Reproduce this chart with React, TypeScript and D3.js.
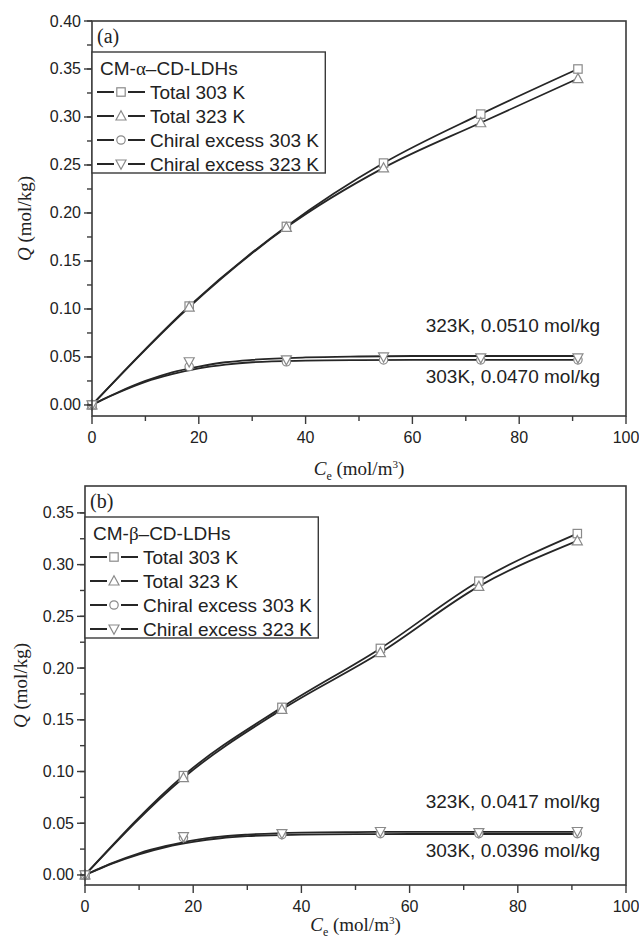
import React, { useEffect, useRef } from "react";
import * as d3 from "d3";

// ---- data ----
const ceValues = [0, 18.2, 36.4, 54.6, 72.8, 91.0];

const totalA303 = [0, 0.103, 0.186, 0.252, 0.303, 0.35];
const totalA323 = [0, 0.102, 0.185, 0.247, 0.294, 0.34];
const chiralA303 = [0, 0.04, 0.045, 0.047, 0.047, 0.047];
const chiralA323 = [0, 0.045, 0.047, 0.05, 0.049, 0.049];

const totalB303 = [0, 0.096, 0.162, 0.219, 0.284, 0.33];
const totalB323 = [0, 0.094, 0.16, 0.215, 0.279, 0.323];
const chiralB303 = [0, 0.036, 0.039, 0.04, 0.04, 0.04];
const chiralB323 = [0, 0.037, 0.04, 0.042, 0.041, 0.042];

// fitted curves for chiral excess
const fitX = [0, 2, 5, 10, 15, 20, 25, 30, 40, 50, 60, 70, 80, 91];
const fitA303 = [0, 0.0055, 0.013, 0.024, 0.032, 0.038, 0.042, 0.0445, 0.0462, 0.0468, 0.047, 0.047, 0.047, 0.047];
const fitA323 = [0, 0.0057, 0.0135, 0.025, 0.034, 0.04, 0.0445, 0.047, 0.0495, 0.0505, 0.051, 0.051, 0.051, 0.051];
const fitB303 = [0, 0.0045, 0.011, 0.02, 0.027, 0.032, 0.0355, 0.0375, 0.039, 0.0395, 0.0396, 0.0396, 0.0396, 0.0396];
const fitB323 = [0, 0.0047, 0.0115, 0.021, 0.028, 0.0335, 0.037, 0.039, 0.041, 0.0415, 0.0417, 0.0417, 0.0417, 0.0417];

const legendLabels = ["Total 303 K", "Total 323 K", "Chiral excess 303 K", "Chiral excess 323 K"];
const markerTypes = ["square", "triangle", "circle", "down"];
const yTicksA = [0, 0.05, 0.1, 0.15, 0.2, 0.25, 0.3, 0.35, 0.4];
const yTicksB = [0, 0.05, 0.1, 0.15, 0.2, 0.25, 0.3, 0.35];
const xTicks = [0, 20, 40, 60, 80, 100];

const SANS = "'Liberation Sans', Arial, Helvetica, sans-serif";
const SERIF = "'Liberation Serif', 'Times New Roman', serif";
const AXIS_COLOR = "#3a3a3a";
const LINE_COLOR = "#262626";
const MARKER_COLOR = "#8a8a8a";

type Panel = {
  tag: string;
  greek: string;
  left: number;
  right: number;
  top: number;
  bottom: number;
  yDomain: [number, number];
  yTicks: number[];
  totals: number[][];
  chirals: number[][];
  fits: number[][];
  annot: { text: string; value: number; dy: number }[];
  xTitleY: number;
  yTitleX: number;
};

const panels: Panel[] = [
  {
    tag: "(a)",
    greek: "α",
    left: 92,
    right: 626,
    top: 21,
    bottom: 416,
    yDomain: [-0.0115, 0.4],
    yTicks: yTicksA,
    totals: [totalA303, totalA323],
    chirals: [chiralA303, chiralA323],
    fits: [fitA303, fitA323],
    annot: [
      { text: "323K, 0.0510 mol/kg", value: 0.051, dy: -24 },
      { text: "303K, 0.0470 mol/kg", value: 0.047, dy: 23 },
    ],
    xTitleY: 475,
    yTitleX: 25,
  },
  {
    tag: "(b)",
    greek: "β",
    left: 85,
    right: 626,
    top: 486,
    bottom: 885,
    yDomain: [-0.0097, 0.376],
    yTicks: yTicksB,
    totals: [totalB303, totalB323],
    chirals: [chiralB303, chiralB323],
    fits: [fitB303, fitB323],
    annot: [
      { text: "323K, 0.0417 mol/kg", value: 0.0417, dy: -24 },
      { text: "303K, 0.0396 mol/kg", value: 0.0396, dy: 23 },
    ],
    xTitleY: 931,
    yTitleX: 21,
  },
];

function drawMarker(g: any, type: string, cx: number, cy: number) {
  const s = 4.2;
  if (type === "square") {
    g.append("rect").attr("x", cx - s).attr("y", cy - s).attr("width", 2 * s).attr("height", 2 * s);
  } else if (type === "circle") {
    g.append("circle").attr("cx", cx).attr("cy", cy).attr("r", s);
  } else if (type === "triangle") {
    g.append("path").attr("d", `M${cx},${cy - 5.2}L${cx + 5},${cy + 4}L${cx - 5},${cy + 4}Z`);
  } else {
    g.append("path").attr("d", `M${cx},${cy + 5.2}L${cx + 5},${cy - 4}L${cx - 5},${cy - 4}Z`);
  }
}

export default function App() {
  const ref = useRef<SVGSVGElement | null>(null);

  useEffect(() => {
    const svg = d3.select(ref.current);
    svg.selectAll("*").remove();

    panels.forEach((p) => {
      const x = d3.scaleLinear().domain([0, 100]).range([p.left, p.right]);
      const y = d3.scaleLinear().domain(p.yDomain).range([p.bottom, p.top]);
      const g = svg.append("g");

      const line = d3
        .line<[number, number]>()
        .x((d) => x(d[0]))
        .y((d) => y(d[1]))
        .curve(d3.curveMonotoneX);
      p.totals.forEach((vals) => {
        g.append("path")
          .attr("d", line(ceValues.map((c, i) => [c, vals[i]] as [number, number])) as string)
          .attr("fill", "none")
          .attr("stroke", LINE_COLOR)
          .attr("stroke-width", 1.8);
      });
      p.fits.forEach((vals) => {
        g.append("path")
          .attr("d", line(fitX.map((c, i) => [c, vals[i]] as [number, number])) as string)
          .attr("fill", "none")
          .attr("stroke", LINE_COLOR)
          .attr("stroke-width", 1.8);
      });

      // markers
      const mg = g.append("g").attr("fill", "white").attr("stroke", MARKER_COLOR).attr("stroke-width", 1.2);
      const series = [p.totals[0], p.totals[1], p.chirals[0], p.chirals[1]];
      series.forEach((vals, si) => {
        ceValues.forEach((c, i) => drawMarker(mg, markerTypes[si], x(c), y(vals[i])));
      });

      // frame
      g.append("rect")
        .attr("x", p.left)
        .attr("y", p.top)
        .attr("width", p.right - p.left)
        .attr("height", p.bottom - p.top)
        .attr("fill", "none")
        .attr("stroke", AXIS_COLOR)
        .attr("stroke-width", 1.6);

      // y ticks
      const yMinor = d3.range(0, p.yTicks[p.yTicks.length - 1] + 0.001, 0.025);
      yMinor.forEach((v) => {
        g.append("line").attr("x1", p.left - 5).attr("x2", p.left).attr("y1", y(v)).attr("y2", y(v))
          .attr("stroke", AXIS_COLOR).attr("stroke-width", 1.4);
      });
      p.yTicks.forEach((v) => {
        g.append("line").attr("x1", p.left - 8).attr("x2", p.left).attr("y1", y(v)).attr("y2", y(v))
          .attr("stroke", AXIS_COLOR).attr("stroke-width", 1.4);
        g.append("text")
          .attr("x", p.left - 11)
          .attr("y", y(v) + 5.5)
          .attr("text-anchor", "end")
          .attr("font-family", SANS)
          .attr("font-size", 16)
          .attr("fill", "#222")
          .text(d3.format(".2f")(v));
      });
      // x ticks
      d3.range(10, 100, 20).forEach((v) => {
        g.append("line").attr("x1", x(v)).attr("x2", x(v)).attr("y1", p.bottom).attr("y2", p.bottom + 5)
          .attr("stroke", AXIS_COLOR).attr("stroke-width", 1.4);
      });
      xTicks.forEach((v) => {
        g.append("line").attr("x1", x(v)).attr("x2", x(v)).attr("y1", p.bottom).attr("y2", p.bottom + 8)
          .attr("stroke", AXIS_COLOR).attr("stroke-width", 1.4);
        g.append("text")
          .attr("x", x(v))
          .attr("y", p.bottom + 27)
          .attr("text-anchor", "middle")
          .attr("font-family", SANS)
          .attr("font-size", 16)
          .attr("fill", "#222")
          .text(String(v));
      });

      // axis titles
      const xt = g.append("text")
        .attr("x", (p.left + p.right) / 2)
        .attr("y", p.xTitleY)
        .attr("text-anchor", "middle")
        .attr("font-family", SERIF)
        .attr("font-size", 19)
        .attr("fill", "#222");
      xt.append("tspan").attr("font-style", "italic").text("C");
      xt.append("tspan").attr("font-size", 12).attr("dy", 5).text("e");
      xt.append("tspan").attr("dy", -5).text(" (mol/m");
      xt.append("tspan").attr("font-size", 11).attr("dy", -7).text("3");
      xt.append("tspan").attr("dy", 7).text(")");

      const yt = g.append("text")
        .attr("transform", `translate(${p.yTitleX},${(p.top + p.bottom) / 2}) rotate(-90)`)
        .attr("text-anchor", "middle")
        .attr("dy", 6)
        .attr("font-family", SERIF)
        .attr("font-size", 19)
        .attr("fill", "#222");
      yt.append("tspan").attr("font-style", "italic").text("Q");
      yt.append("tspan").text(" (mol/kg)");

      // panel tag
      g.append("text")
        .attr("x", p.left + 5)
        .attr("y", p.top + 22)
        .attr("font-family", SERIF)
        .attr("font-size", 20)
        .attr("fill", "#222")
        .text(p.tag);

      // legend
      const lt = p.top + 31;
      const lg = g.append("g");
      const box = lg.append("rect")
        .attr("x", p.left)
        .attr("y", lt)
        .attr("height", 121)
        .attr("fill", "white")
        .attr("stroke", AXIS_COLOR)
        .attr("stroke-width", 1.4);
      const title = lg.append("text")
        .attr("x", p.left + 8)
        .attr("y", lt + 23)
        .attr("font-family", SANS)
        .attr("font-size", 19)
        .attr("fill", "#222");
      title.append("tspan").text("CM-");
      title.append("tspan").attr("font-family", SERIF).text(p.greek);
      title.append("tspan").text("–CD-LDHs");
      let maxRight = 0;
      legendLabels.forEach((lab, i) => {
        const yy = lt + 40 + i * 24;
        lg.append("line").attr("x1", p.left + 5).attr("x2", p.left + 53).attr("y1", yy).attr("y2", yy)
          .attr("stroke", LINE_COLOR).attr("stroke-width", 1.8);
        const mgg = lg.append("g").attr("fill", "white").attr("stroke", MARKER_COLOR).attr("stroke-width", 1.2);
        mgg.append("rect").attr("x", p.left + 22).attr("y", yy - 6).attr("width", 14).attr("height", 12).attr("stroke", "none");
        drawMarker(mgg, markerTypes[i], p.left + 29, yy);
        const t = lg.append("text")
          .attr("x", p.left + 58)
          .attr("y", yy + 6.5)
          .attr("font-family", SANS)
          .attr("font-size", 19)
          .attr("fill", "#222")
          .text(lab);
        const bb = (t.node() as SVGTextElement).getBBox();
        maxRight = Math.max(maxRight, bb.x + bb.width);
      });
      box.attr("width", maxRight + 6 - p.left);

      // annotations
      p.annot.forEach((a) => {
        g.append("text")
          .attr("x", 600)
          .attr("y", y(a.value) + a.dy)
          .attr("text-anchor", "end")
          .attr("font-family", SANS)
          .attr("font-size", 19)
          .attr("fill", "#222")
          .text(a.text);
      });
    });
  }, []);

  return (
    <svg
      ref={ref}
      width={639}
      height={941}
      style={{ position: "absolute", left: 0, top: 0, background: "white", display: "block" }}
    />
  );
}
